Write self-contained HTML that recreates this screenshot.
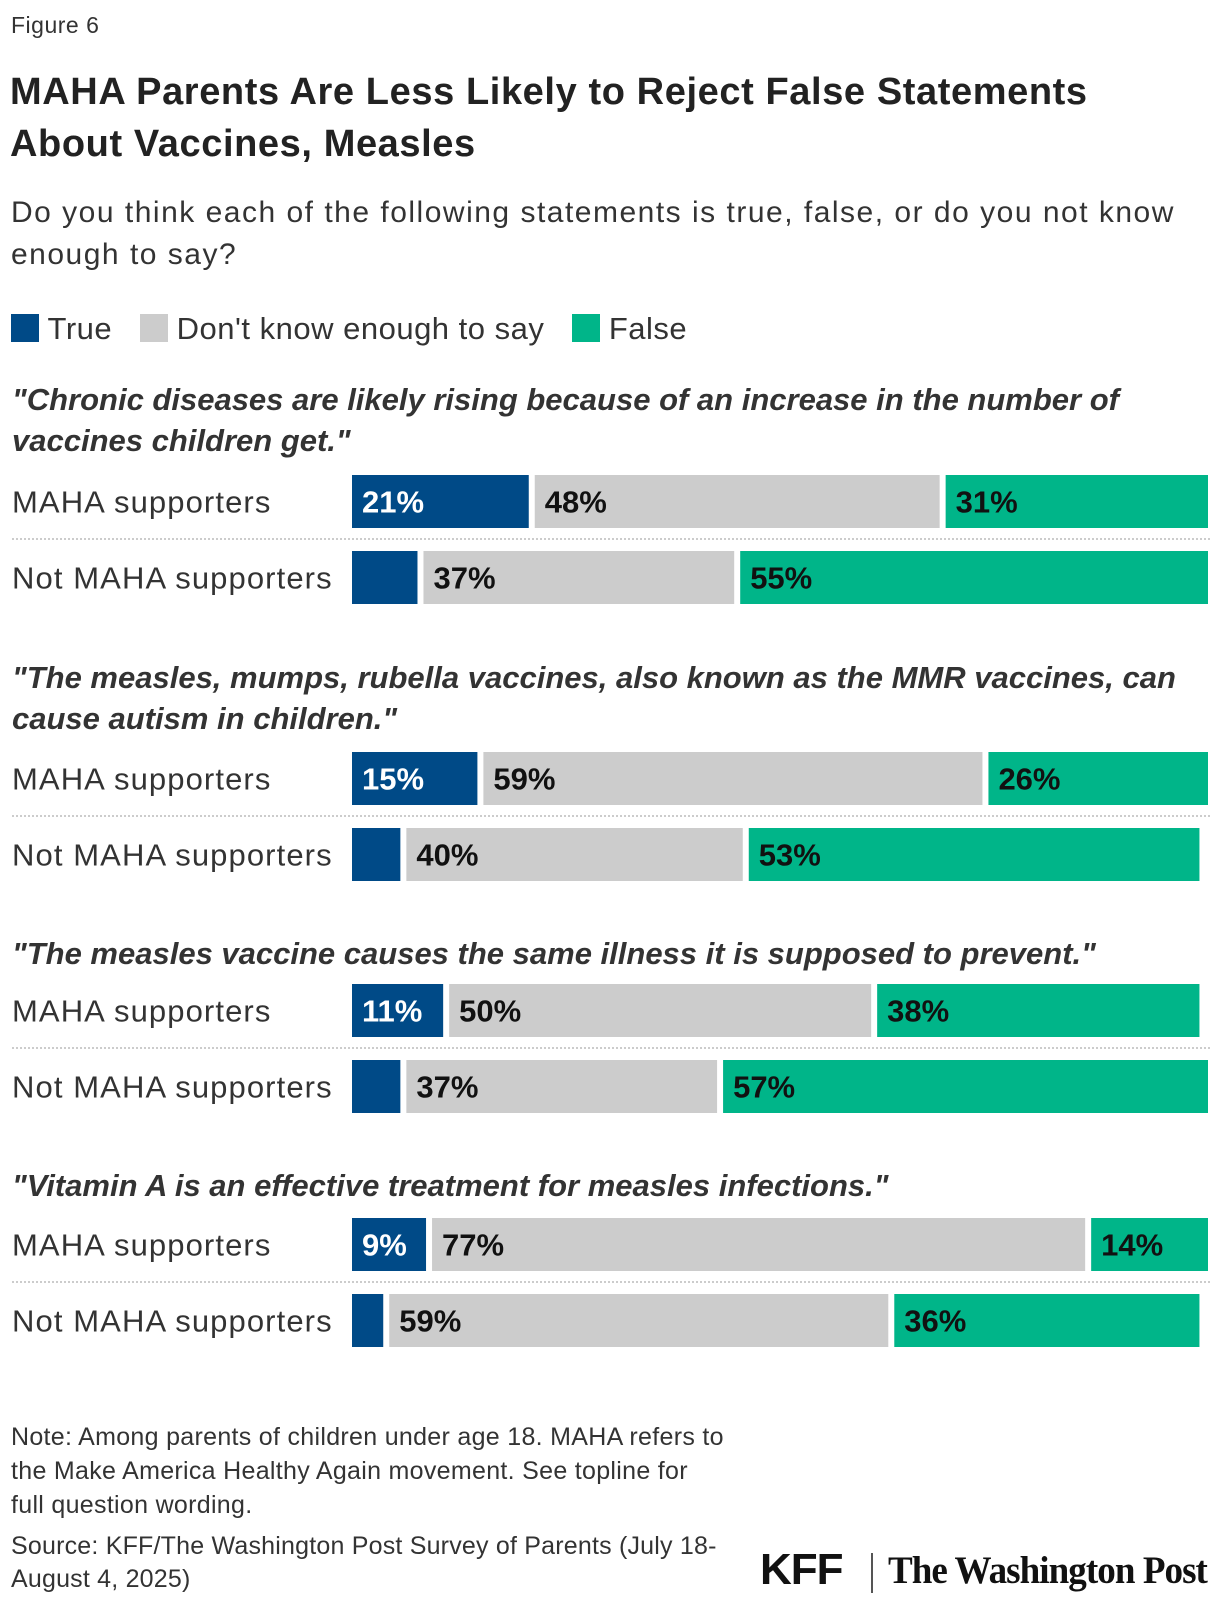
<!DOCTYPE html>
<html><head><meta charset="utf-8"><style>
body{margin:0;background:#fff;}
#wrap{position:relative;width:1220px;height:1608px;font-family:"Liberation Sans",sans-serif;color:#222;overflow:hidden}
.t{position:absolute;white-space:nowrap}
</style></head><body>
<div id="wrap">
<div class="t" style="left:11px;top:12px;font-size:23px;color:#333;letter-spacing:0.5px">Figure 6</div>
<div class="t" style="left:10px;top:66px;font-size:38px;font-weight:bold;line-height:52px;letter-spacing:0.6px">MAHA Parents Are Less Likely to Reject False Statements<br>About Vaccines, Measles</div>
<div class="t" style="left:11px;top:192px;font-size:30px;line-height:42px;color:#333;letter-spacing:1.5px">Do you think each of the following statements is true, false, or do you not know<br>enough to say?</div>
<div class="t" style="left:11px;top:312px;font-size:31px;line-height:34px;color:#333;letter-spacing:0.5px">
<span><span style="display:inline-block;width:28px;height:28px;background:#004a87;vertical-align:-3px"></span> True</span>&nbsp;&nbsp;
<span><span style="display:inline-block;width:28px;height:28px;background:#cccccc;vertical-align:-3px"></span> Don't know enough to say</span>&nbsp;&nbsp;
<span><span style="display:inline-block;width:28px;height:28px;background:#00b589;vertical-align:-3px"></span> False</span>
</div>
<svg id="chart" width="1220" height="1608" style="position:absolute;left:0;top:0"></svg>
<div class="t" style="left:11px;top:1420px;font-size:25px;line-height:34px;color:#333;letter-spacing:0.3px">Note: Among parents of children under age 18. MAHA refers to<br>the Make America Healthy Again movement. See topline for<br>full question wording.</div>
<div class="t" style="left:11px;top:1530px;font-size:25px;line-height:33px;color:#333;letter-spacing:0.2px">Source: KFF/The Washington Post Survey of Parents (July 18-<br>August 4, 2025)</div>
<div class="t" style="left:760px;top:1545px;font-size:44px;font-weight:bold;color:#111;letter-spacing:-1px">KFF</div>
<div style="position:absolute;left:871px;top:1553px;width:2px;height:40px;background:#555"></div>
<div class="t" style="left:888px;top:1548px;font-family:'Liberation Serif',serif;font-weight:bold;font-size:39px;color:#111;letter-spacing:-1px;transform:scaleX(0.95);transform-origin:left">The Washington Post</div>
</div>
<script>
const questions=['"Chronic diseases are likely rising because of an increase in the number of|vaccines children get."','"The measles, mumps, rubella vaccines, also known as the MMR vaccines, can|cause autism in children."','"The measles vaccine causes the same illness it is supposed to prevent."','"Vitamin A is an effective treatment for measles infections."'];
const groups=['MAHA supporters','Not MAHA supporters'];
const trueVals=[21,8,15,6,11,6,9,4];
const dkVals=[48,37,59,40,50,37,77,59];
const falseVals=[31,55,26,53,38,57,14,36];
const qTop=[380,658,934,1166];
const barTops=[475,551,752,828,984,1060,1218,1294];
const NS='http://www.w3.org/2000/svg';
const svg=document.getElementById('chart');
const x0=352,x1=1208;
const xs=v=>x0+v*(x1-x0)/100;
const colors=['#004a87','#cccccc','#00b589'];
function mk(tag,attrs){const e=document.createElementNS(NS,tag);for(const k in attrs)e.setAttribute(k,attrs[k]);svg.appendChild(e);return e;}
questions.forEach((q,i)=>{
  q.split('|').forEach((line,j)=>{
    const t=mk('text',{x:12,y:qTop[i]+j*41+30,'font-size':31,'font-weight':'bold','font-style':'italic','fill':'#333','font-family':'Liberation Sans, sans-serif'});
    
    
    t.textContent=line;
  });
});
for(let r=0;r<8;r++){
  const y=barTops[r],h=53;
  const lbl=mk('text',{x:12,y:y+h/2+11,'font-size':31,'fill':'#333','font-family':'Liberation Sans, sans-serif','letter-spacing':'1.1'});
  
  
  lbl.textContent=groups[r%2];
  if(r%2===0){
    const ln=mk('line',{x1:12,x2:1210,y1:y+h+11,y2:y+h+11,stroke:'#ccc','stroke-width':2,'stroke-dasharray':'2,2'});
    
    
  }
  const vals=[trueVals[r],dkVals[r],falseVals[r]];
  let cum=0;
  vals.forEach((v,k)=>{
    const a=xs(cum)+(k>0?3:0),b=xs(cum+v)-(k<2?3:0);
    const rect=mk('rect',{x:a,y:y,width:Math.max(0,b-a),height:h,fill:colors[k]});
    
    
    if(v>=9){
      const t=mk('text',{x:a+10,y:y+h/2+11,'font-size':31,'font-weight':'bold','fill':k===0?'#fff':'#111','font-family':'Liberation Sans, sans-serif'});
      
      
      t.textContent=v+'%';
    }
    cum+=v;
  });
}
</script>
</body></html>
